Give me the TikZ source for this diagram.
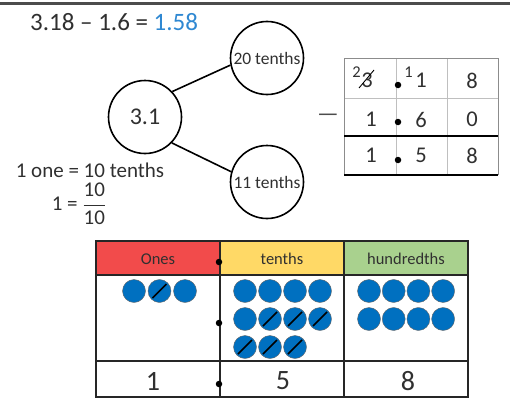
\documentclass[tikz,border=0pt]{standalone}
\usepackage{fontspec}
\usepackage{amsmath}
\setmainfont{Carlito}
\usetikzlibrary{positioning}
\definecolor{onesred}{HTML}{F24B4B}
\definecolor{tenthsyellow}{HTML}{FFD966}
\definecolor{hundgreen}{HTML}{A9D18E}
\definecolor{disc}{HTML}{0070C0}
\definecolor{answer}{HTML}{2F88D2}
\definecolor{ink}{HTML}{303030}
\tikzset{every node/.style={text=ink, inner sep=0pt},
  bubble/.style={draw=black, circle, line width=1.6pt, minimum size=73pt},
  chip/.style={circle, fill=disc, draw=black!60, line width=0.4pt, minimum size=23pt},
  usedchip/.style={chip, path picture={\draw[black, line width=1.6pt]
     ([shift={(-7pt,-7pt)}]path picture bounding box.center) --
     ([shift={(7pt,7pt)}]path picture bounding box.center);}},
  pvdot/.style={circle, fill=black, minimum size=6.5pt},
  big/.style={font=\fontsize{22.5}{26}\selectfont},
  small/.style={font=\fontsize{16.5}{19}\selectfont}}
\begin{document}
\begin{tikzpicture}[x=1pt,y=-1pt]
   \useasboundingbox (0,0) rectangle (510,404);
   \draw[black!70, line width=2.2pt] (0,3.5) -- (510,3.5);
   \node[font=\fontsize{25}{28}\selectfont, anchor=west] (sum) at (30,22.5) {3.18 – 1.6 = \textcolor{answer}{1.58}};
   % number bond
   \node[bubble, font=\fontsize{24}{28}\selectfont] (whole) at (145,117) {3.1};
   \node[bubble, font=\fontsize{17.5}{20}\selectfont] (twenty) at (267,58) {20 tenths};
   \node[bubble, font=\fontsize{17.5}{20}\selectfont] (eleven) at (267,182) {11 tenths};
   \draw[line width=1.6pt] (whole.43) -- (twenty.191);
   \draw[line width=1.6pt] (whole.316) -- (eleven.164);
   \node[font=\fontsize{21}{25}\selectfont] (rule) at (90,170) {1 one = 10 tenths};
   \node[font=\fontsize{21}{25}\selectfont, anchor=west, below=5pt of rule.south west, xshift=36pt, anchor=north west] (frac) {1 = $\dfrac{\text{10}}{\text{10}}$};
   % column subtraction
   \begin{scope}
    \node[font=\fontsize{24}{28}\selectfont, text=black!70] (minus) at (328,118) {—};
    \draw[black!25, line width=0.8pt] (396,58) -- (396,175);
    \draw[black!25, line width=0.8pt] (447,58) -- (447,175);
    \draw[black!25, line width=0.8pt] (344,98) -- (498,98);
    \draw[black!45, line width=1pt] (344,175) -- (344,58) -- (498,58) -- (498,175);
    \draw[black, line width=1.6pt] (344,136) -- (498,136);
    \draw[black, line width=1.6pt] (344,175) -- (498,175);
    \node[small] (carryt) at (356.5,72) {2};
    \node[big] (a1) at (367,80.5) {3};
    \draw[black, line width=0.9pt] (359,88) -- (374,70);
    \node[small] (carryo) at (408.5,72) {1};
    \node[big] (a2) at (421,80.5) {1};
    \node[big] (a3) at (472,80.5) {8};
    \node[big] (b1) at (371,119.5) {1};
    \node[big] (b2) at (421,119.5) {6};
    \node[big] (b3) at (472,119.5) {0};
    \node[big] (c1) at (371,155.5) {1};
    \node[big] (c2) at (421,155.5) {5};
    \node[big] (c3) at (472,155.5) {8};
    \foreach \y in {85,122,160}
      \node[pvdot] at (398,\y) {};
   \end{scope}
   % place value chart
   \begin{scope}
    \fill[onesred] (96,241) rectangle (220,275);
    \fill[tenthsyellow] (220,241) rectangle (344,275);
    \fill[hundgreen] (344,241) rectangle (468,275);
    \draw[black!85, line width=1.4pt] (96,241) rectangle (468,397);
    \draw[black!85, line width=1.4pt] (96,275) -- (468,275);
    \draw[black!85, line width=1.4pt] (96,361) -- (468,361);
    \draw[black!85, line width=1.4pt] (220,241) -- (220,397);
    \draw[black!85, line width=1.4pt] (344,241) -- (344,397);
    \node[small] (ones) at (158,259) {Ones};
    \node[small] (tenths) at (282,259) {tenths};
    \node[small] (hundredths) at (406,259) {hundredths};
    \foreach \i in {0,2}
      \node[chip] at (134+25.5*\i,291) {};
    \node[usedchip] at (159.5,291) {};
    \foreach \i in {0,...,3} {
      \node[chip] at (245+25*\i,291) {};
      \node[chip] at (369+24.7*\i,291) {};
      \node[chip] at (369+24.7*\i,319) {};
    }
    \node[chip] at (245,319) {};
    \foreach \i in {1,2,3}
      \node[usedchip] at (245+25*\i,319) {};
    \foreach \i in {0,1,2}
      \node[usedchip] at (245+25*\i,347) {};
    \node[font=\fontsize{28}{32}\selectfont] (onesval) at (153,381) {1};
    \node[font=\fontsize{28}{32}\selectfont] (tenthsval) at (283,381) {5};
    \node[font=\fontsize{28}{32}\selectfont] (hundval) at (408,381) {8};
    \foreach \y in {262,323,384}
      \node[pvdot] at (219,\y) {};
   \end{scope}
\end{tikzpicture}
\end{document}
